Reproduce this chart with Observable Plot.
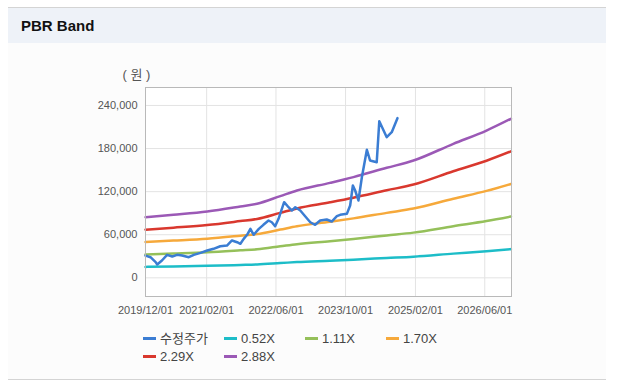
<!DOCTYPE html>
<html>
<head>
<meta charset="utf-8">
<script src="https://cdn.jsdelivr.net/npm/d3@7"></script>
<script src="https://cdn.jsdelivr.net/npm/@observablehq/plot@0.6"></script>
<style>
  body { margin: 0; background: #fff; font-family: "Liberation Sans", "Noto Sans CJK KR", sans-serif; }
  #wrap { position: relative; width: 624px; height: 389px; overflow: hidden; background: #fff; }
  #panel { position: absolute; left: 8px; top: 7px; width: 598px; height: 373px; background: #fcfcfc;
           border-top: 1px solid #d4d4d4; border-bottom: 1px solid #d4d4d4; box-sizing: border-box; }
  #header { position: absolute; left: 0; top: 0; width: 598px; height: 35px; background: #eef2f8; }
  #title { position: absolute; left: 13px; top: 9px; font-weight: bold; font-size: 15px; color: #111; }
  #chart { position: absolute; left: 0; top: 0; }
  .leg { position: absolute; font-size: 13px; color: #444; white-space: nowrap; line-height: 16px;
         font-family: "Liberation Sans", "Noto Sans CJK KR", sans-serif; }
  .sw { display: inline-block; width: 13px; height: 3px; vertical-align: middle; margin-right: 4px; margin-top: -2px; }
</style>
</head>
<body>
<div id="wrap">
  <div id="panel"><div id="header"><div id="title">PBR Band</div></div></div>
  <div id="chart"></div>
  <div id="legend"></div>
</div>
<script>
// ---- data ----
const priceName = "수정주가";
const priceDates = ["2019-12-01","2020-01-05","2020-02-10","2020-02-21","2020-03-25","2020-04-30","2020-06-05","2020-07-09","2020-08-13","2020-09-29","2020-11-03","2020-12-20","2021-02-05","2021-03-21","2021-05-07","2021-06-23","2021-07-28","2021-09-02","2021-09-25","2021-10-18","2021-11-11","2021-12-04","2021-12-27","2022-02-01","2022-03-05","2022-04-10","2022-05-03","2022-05-26","2022-06-19","2022-07-28","2022-08-28","2022-09-20","2022-10-14","2022-11-18","2022-12-22","2023-01-27","2023-03-02","2023-04-06","2023-05-22","2023-06-26","2023-08-01","2023-08-24","2023-10-10","2023-11-02","2023-11-21","2023-12-07","2023-12-30","2024-01-23","2024-02-27","2024-03-20","2024-05-06","2024-05-24","2024-07-15","2024-08-19","2024-09-28"];
const priceValues = [31000,28700,21800,18500,24100,32000,29700,32000,31000,28700,32000,34800,38000,40400,44000,45000,52000,49600,47400,54300,59900,68200,59900,68200,73800,79800,77400,71900,82200,105300,98300,93700,98300,93700,85800,77400,73800,79800,81200,78400,85800,87700,89100,100700,128600,121600,107700,140100,178300,163400,161000,218100,195800,202800,222300];

const bpsDates = ["2019-12-01","2020-06-14","2021-02-05","2021-09-25","2022-01-20","2022-07-01","2022-10-26","2023-06-14","2023-11-25","2024-07-15","2025-01-18","2025-10-24","2026-06-13","2026-12-01"];
const bpsValues = [29300,30500,32100,34500,35800,39500,42200,45900,48700,53200,56700,64800,71200,76900];

const bandMultiples = [0.52, 1.11, 1.70, 2.29, 2.88];
const bandNames = ["0.52X", "1.11X", "1.70X", "2.29X", "2.88X"];

const xTickDates = ["2019-12-01","2021-02-01","2022-06-01","2023-10-01","2025-02-01","2026-06-01"];
const yTickValues = [0, 60000, 120000, 180000, 240000];
const unitLabel = "( 원 )";

// ---- styles ----
const priceColor = "#3b7dd3";
const bandColors = ["#1dbdc8", "#95c05a", "#f6a93b", "#d9382e", "#9b59b6"];

// ---- tables ----
const price = priceDates.map((d, i) => ({date: new Date(d), value: priceValues[i]}));
const bands = bandMultiples.map((m, k) =>
  bpsDates.map((d, i) => ({date: new Date(d), value: bpsValues[i] * m, series: bandNames[k]})));
const xTicks = xTickDates.map(d => new Date(d));

const font = '"Liberation Sans", "Noto Sans CJK KR", sans-serif';

const chart = Plot.plot({
  width: 624,
  height: 330,
  marginTop: 87,
  marginBottom: 34,
  marginLeft: 145,
  marginRight: 113,
  style: {background: "transparent", fontFamily: font, fontSize: "11px", color: "#555", overflow: "visible"},
  x: {type: "utc", domain: [new Date("2019-12-01"), new Date("2026-12-05")]},
  y: {domain: [-26000, 265000]},
  marks: [
    Plot.frame({fill: "#fff"}),
    Plot.gridX(xTicks, {stroke: "#e3e3e3", strokeOpacity: 1}),
    Plot.gridY(yTickValues, {stroke: "#e3e3e3", strokeOpacity: 1}),
    Plot.axisX(xTicks, {tickSize: 0, tickPadding: 10, tickFormat: d3.utcFormat("%Y/%m/%d"), label: null, fill: "#555"}),
    Plot.axisY(yTickValues, {tickSize: 0, tickPadding: 8, tickFormat: d3.format(","), label: null, fill: "#555"}),
    ...bands.map((b, k) => Plot.line(b, {x: "date", y: "value", stroke: bandColors[k], strokeWidth: 2.5, curve: "monotone-x"})),
    Plot.line(price, {x: "date", y: "value", stroke: priceColor, strokeWidth: 2.5, strokeLinejoin: "round"}),
    Plot.frame({stroke: "#b9b9b9"}),
    Plot.text([unitLabel], {frameAnchor: "top-left", textAnchor: "middle", dx: -9, dy: -18, fontSize: 13, fill: "#555", text: d => d})
  ]
});
document.getElementById("chart").appendChild(chart);

// ---- legend ----
const legendItems = [{name: priceName, color: priceColor}, ...bandNames.map((n, k) => ({name: n, color: bandColors[k]}))];
const legend = document.getElementById("legend");
legendItems.forEach((it, i) => {
  const col = i % 4, row = Math.floor(i / 4);
  const el = document.createElement("div");
  el.className = "leg";
  el.style.left = (143 + col * 81) + "px";
  el.style.top = (331 + row * 18) + "px";
  el.innerHTML = `<span class="sw" style="background:${it.color}"></span>${it.name}`;
  legend.appendChild(el);
});
</script>
</body>
</html>
